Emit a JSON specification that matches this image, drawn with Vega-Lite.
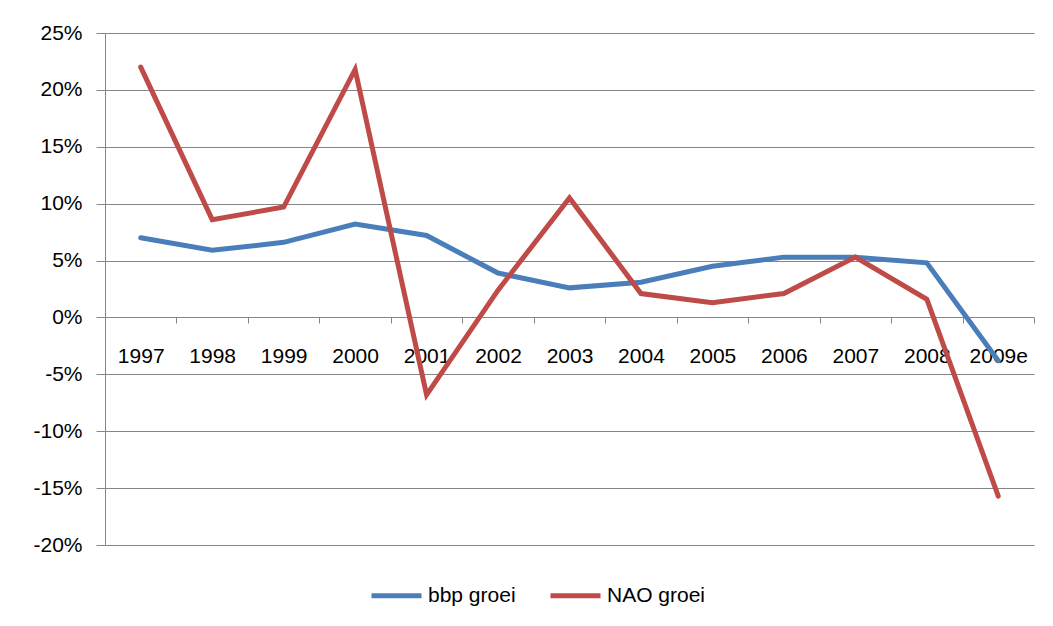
{
  "$schema": "https://vega.github.io/schema/vega-lite/v6.json",
  "width": 929,
  "height": 512,
  "autosize": "none",
  "padding": {"left": 105, "top": 33, "right": 19, "bottom": 81},
  "background": "white",
  "config": {
    "view": {"stroke": null},
    "font": "Liberation Sans"
  },
  "data": {
    "values": [
      {"year": "1997", "series": "bbp groei", "value": 0.070},
      {"year": "1998", "series": "bbp groei", "value": 0.059},
      {"year": "1999", "series": "bbp groei", "value": 0.066},
      {"year": "2000", "series": "bbp groei", "value": 0.082},
      {"year": "2001", "series": "bbp groei", "value": 0.072},
      {"year": "2002", "series": "bbp groei", "value": 0.039},
      {"year": "2003", "series": "bbp groei", "value": 0.026},
      {"year": "2004", "series": "bbp groei", "value": 0.031},
      {"year": "2005", "series": "bbp groei", "value": 0.045},
      {"year": "2006", "series": "bbp groei", "value": 0.053},
      {"year": "2007", "series": "bbp groei", "value": 0.053},
      {"year": "2008", "series": "bbp groei", "value": 0.048},
      {"year": "2009e", "series": "bbp groei", "value": -0.038},
      {"year": "1997", "series": "NAO groei", "value": 0.220},
      {"year": "1998", "series": "NAO groei", "value": 0.086},
      {"year": "1999", "series": "NAO groei", "value": 0.097},
      {"year": "2000", "series": "NAO groei", "value": 0.218},
      {"year": "2001", "series": "NAO groei", "value": -0.068},
      {"year": "2002", "series": "NAO groei", "value": 0.024},
      {"year": "2003", "series": "NAO groei", "value": 0.105},
      {"year": "2004", "series": "NAO groei", "value": 0.021},
      {"year": "2005", "series": "NAO groei", "value": 0.013},
      {"year": "2006", "series": "NAO groei", "value": 0.021},
      {"year": "2007", "series": "NAO groei", "value": 0.053},
      {"year": "2008", "series": "NAO groei", "value": 0.016},
      {"year": "2009e", "series": "NAO groei", "value": -0.157}
    ]
  },
  "mark": {"type": "line", "strokeWidth": 5, "strokeCap": "round", "strokeJoin": "miter"},
  "encoding": {
    "x": {
      "field": "year",
      "type": "ordinal",
      "sort": null,
      "scale": {"type": "band", "paddingInner": 0, "paddingOuter": 0},
      "axis": {
        "title": null,
        "labelAngle": 0,
        "offset": -228,
        "domain": false,
        "grid": false,
        "tickBand": "extent",
        "tickColor": "#868686",
        "tickSize": 6,
        "labelFontSize": 21,
        "labelColor": "#000000",
        "labelPadding": 22,
        "labelBaseline": "top"
      }
    },
    "y": {
      "field": "value",
      "type": "quantitative",
      "scale": {"domain": [-0.2, 0.25], "nice": false, "zero": false},
      "axis": {
        "title": null,
        "values": [-0.2, -0.15, -0.1, -0.05, 0, 0.05, 0.1, 0.15, 0.2, 0.25],
        "labelExpr": "replace(format(datum.value, '.0%'), '\u2212', '-')",
        "grid": true,
        "gridColor": "#868686",
        "gridOpacity": 1,
        "domainColor": "#868686",
        "tickColor": "#868686",
        "tickSize": 9,
        "labelFontSize": 21,
        "labelColor": "#000000",
        "labelPadding": 14
      }
    },
    "color": {
      "field": "series",
      "type": "nominal",
      "sort": ["bbp groei", "NAO groei"],
      "scale": {"domain": ["bbp groei", "NAO groei"], "range": ["#4A7EBB", "#BE4B48"]},
      "legend": {
        "title": null,
        "orient": "none",
        "direction": "horizontal",
        "legendX": 264,
        "legendY": 535,
        "symbolType": "stroke",
        "symbolSize": 2500,
        "symbolStrokeWidth": 5,
        "labelFontSize": 21,
        "labelColor": "#000000",
        "labelOffset": 4,
        "columnPadding": 24,
        "labelLimit": 300
      }
    }
  }
}
